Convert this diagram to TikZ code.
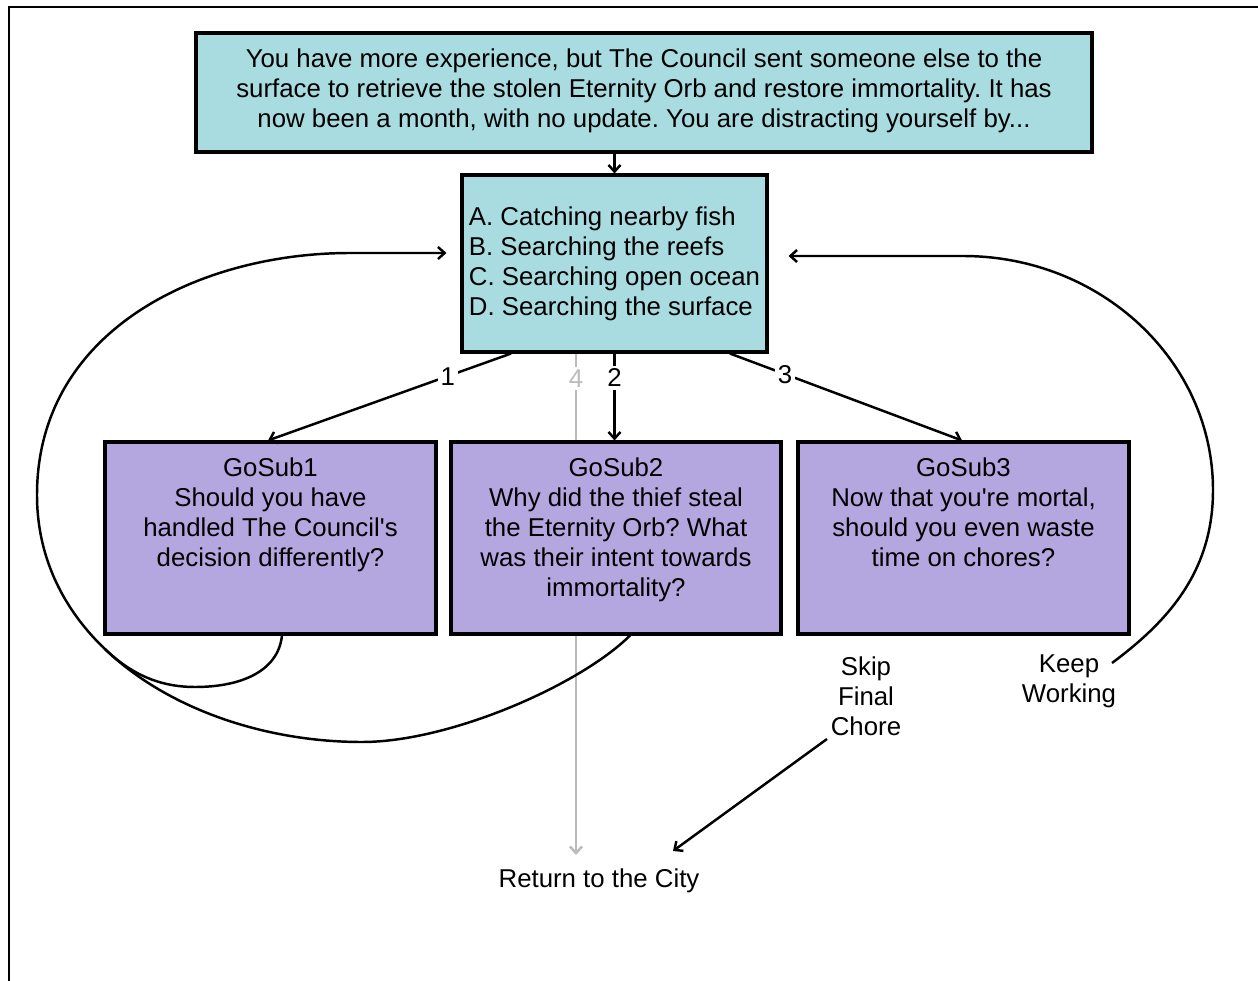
\documentclass[tikz,border=0pt]{standalone}
\usepackage{fontspec}
\setmainfont[Ligatures=TeXOff]{Liberation Sans}
\usetikzlibrary{arrows.meta,calc}
\definecolor{cyanbox}{HTML}{A8DCE0}
\definecolor{purplebox}{HTML}{B4A7E0}
\definecolor{grayline}{HTML}{BBBBBB}
\begin{document}
\frenchspacing
\begin{tikzpicture}[x=0.75pt,y=-0.75pt,
  every node/.style={font=\fontsize{19.35}{22.5}\selectfont, inner sep=0pt},
  box/.style={draw=black, line width=2.3pt, inner sep=0pt},
  cbox/.style={box, fill=cyanbox},
  pbox/.style={box, fill=purplebox, minimum height=144pt},
  plain/.style={draw=black, line width=1.85pt},
  edge/.style={plain, -{Straight Barb[length=5pt,width=9pt]}},
  grayedge/.style={draw=grayline, line width=1.85pt, -{Straight Barb[length=5pt,width=9pt]}},
  lbl/.style={fill=white, inner sep=2pt}]
\useasboundingbox (0,0) rectangle (1258,981);
\draw[line width=1.5pt] (9,981) -- (9,7) -- (1258,7);

% nodes
\node[cbox, minimum width=672pt, minimum height=89.25pt] (top) at (644,92.5) {};
\node[align=center] (toptext) at (644,90.5)
  {You have more experience, but The Council sent someone else to the\\surface to retrieve the stolen Eternity Orb and restore immortality. It has\\now been a month, with no update. You are distracting yourself by...};
\node[cbox, minimum width=228.75pt, minimum height=132.75pt, align=left] (mid) at (614.5,263.5)
  {A. Catching nearby fish\\B. Searching the reefs\\C. Searching open ocean\\D. Searching the surface};

\node (ret) at (599,881) {Return to the City};
\node[align=center] (skip) at (866,696) {Skip\\Final\\Chore};
\node[align=center] (keep) at (1069,681) {Keep\\Working};
\coordinate (skipend) at (827,739);
\coordinate (retend) at (673,851);
\coordinate (keepend) at (1112,663);

% gray edge drawn beneath the boxes
\draw[grayedge] ($(mid.south)+(-38.5,0)$) -- node[lbl, pos=0.05, text=grayline] (l4) {4} (576,855);

\node[pbox, minimum width=248.25pt] (g1) at (270.5,538) {};
\node[pbox, minimum width=247.5pt] (g2) at (616,538) {};
\node[pbox, minimum width=248.25pt] (g3) at (963.5,538) {};
\node[anchor=north, align=center] (g1t) at ($(g1.north)+(0,17.5)$)
  {GoSub1\\Should you have\\handled The Council's\\decision differently?};
\node[anchor=north, align=center] (g2t) at ($(g2.north)+(0,17.5)$)
  {GoSub2\\Why did the thief steal\\the Eternity Orb? What\\was their intent towards\\immortality?};
\node[anchor=north, align=center] (g3t) at ($(g3.north)+(0,17.5)$)
  {GoSub3\\Now that you're mortal,\\should you even waste\\time on chores?};

% edges
\draw[edge] (mid.north |- top.south) -- (mid.north);
\draw[edge] ($(mid.south)+(-103.5,0)$) -- node[lbl, pos=0.26] (l1) {1} ($(g1.north)+(-2.5,0)$);
\draw[edge] (mid.south) -- node[lbl, pos=0.28] (l2) {2} (mid.south |- g2.north);
\draw[edge] ($(mid.south)+(115.5,0)$) -- node[lbl, pos=0.237] (l3) {3} ($(g3.north)+(-1.5,0)$);

% loops back to the choice box
\draw[edge] ($(g2.south)+(14,0)$) .. controls (580,685) and (450,742) .. (362,742)
  .. controls (200,742) and (37,650) .. (37,495)
  .. controls (37,330) and (200,253) .. (350,253) -- ($(mid.west)+(-14,-10.5)$);
\draw[plain] ($(g1.south)+(11.5,0)$) .. controls (278,672) and (240,687) .. (195,687)
  .. controls (165,687) and (135,678) .. (105,649);
\draw[edge] (keepend) .. controls (1170,620) and (1213,570) .. (1213,490)
  .. controls (1213,361) and (1101,256) .. (963,256) -- ($(mid.east)+(20,-7.5)$);

\draw[edge] (skipend) -- (retend);
\end{tikzpicture}
\end{document}
